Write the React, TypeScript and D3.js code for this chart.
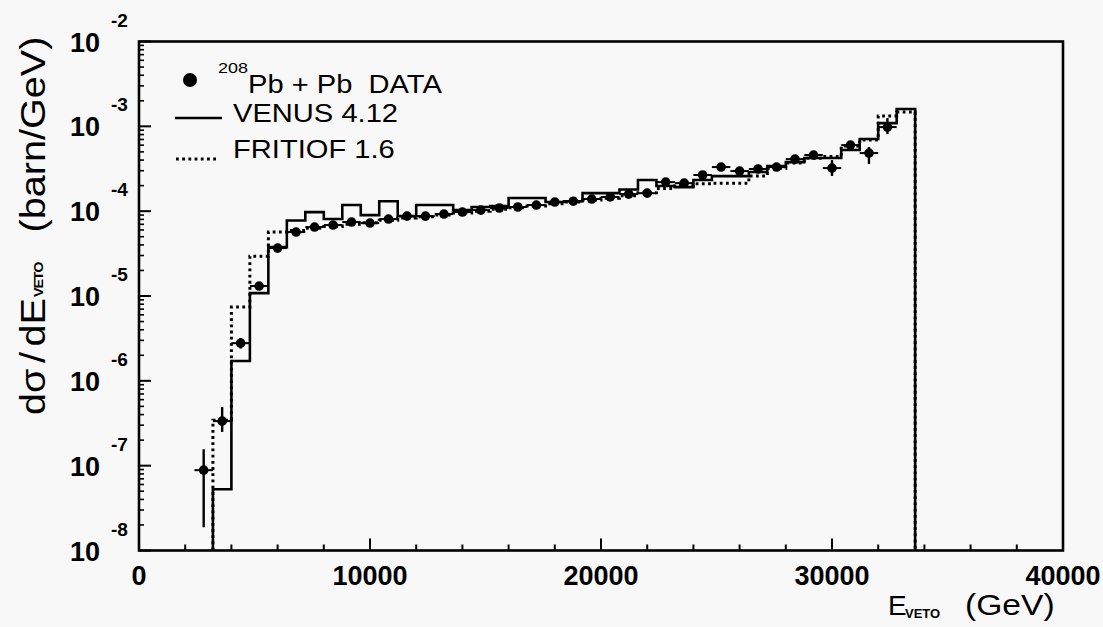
import React from 'react';
import * as d3 from 'd3';

// ---- data ----
const FIRST_EDGE = 3200; // GeV, low edge of first histogram bin
const BIN_WIDTH = 800; // GeV

const venus = [
  5.28e-8, 1.71e-6, 1.08e-5, 3.77e-5, 7.75e-5, 9.75e-5, 8.07e-5, 1.18e-4, 8.99e-5, 1.31e-4,
  8.75e-5, 1.18e-4, 1.18e-4, 1.03e-4, 1.12e-4, 1.15e-4, 1.43e-4, 1.43e-4, 1.28e-4, 1.31e-4,
  1.63e-4, 1.63e-4, 1.8e-4, 2.33e-4, 1.98e-4, 1.92e-4, 2.33e-4, 2.59e-4, 2.59e-4, 2.89e-4,
  3.4e-4, 3.79e-4, 4.23e-4, 4.23e-4, 5.25e-4, 7.08e-4, 1.09e-3, 1.6e-3,
];

const fritiof = [
  3.44e-7, 7.4e-6, 2.95e-5, 5.67e-5, 5.9e-5, 6.3e-5, 6.6e-5, 7.0e-5, 7.3e-5, 7.8e-5,
  8.3e-5, 8.6e-5, 9.0e-5, 9.5e-5, 1.0e-4, 1.05e-4, 1.1e-4, 1.15e-4, 1.22e-4, 1.28e-4,
  1.35e-4, 1.42e-4, 1.52e-4, 1.65e-4, 1.85e-4, 2.0e-4, 2.1e-4, 2.14e-4, 2.14e-4, 2.6e-4,
  3.2e-4, 3.7e-4, 4.2e-4, 4.4e-4, 5.86e-4, 6.89e-4, 1.32e-3, 1.48e-3,
];

const dataE = [
  2800, 3600, 4400, 5200, 6000, 6800, 7600, 8400, 9200, 10000,
  10800, 11600, 12400, 13200, 14000, 14800, 15600, 16400, 17200, 18000,
  18800, 19600, 20400, 21200, 22000, 22800, 23600, 24400, 25200, 26000,
  26800, 27600, 28400, 29200, 30000, 30800, 31600, 32400,
];
const dataY = [
  8.85e-8, 3.35e-7, 2.78e-6, 1.31e-5, 3.67e-5, 5.67e-5, 6.5e-5, 6.86e-5, 7.44e-5, 7.24e-5,
  8.07e-5, 8.75e-5, 8.75e-5, 9.25e-5, 9.76e-5, 1.03e-4, 1.09e-4, 1.12e-4, 1.18e-4, 1.28e-4,
  1.31e-4, 1.39e-4, 1.47e-4, 1.59e-4, 1.63e-4, 2.2e-4, 2.14e-4, 2.67e-4, 3.31e-4, 2.97e-4,
  3.14e-4, 3.31e-4, 4.11e-4, 4.59e-4, 3.22e-4, 6.01e-4, 4.84e-4, 9.8e-4,
];
const dataLo = [
  1.88e-8, 2.5e-7, 2.4e-6, 1.2e-5, 3.45e-5, 5.4e-5, 6.2e-5, 6.55e-5, 7.1e-5, 6.9e-5,
  7.7e-5, 8.35e-5, 8.35e-5, 8.85e-5, 9.3e-5, 9.85e-5, 1.04e-4, 1.07e-4, 1.12e-4, 1.22e-4,
  1.25e-4, 1.32e-4, 1.4e-4, 1.51e-4, 1.55e-4, 2.0e-4, 2.0e-4, 2.5e-4, 3.0e-4, 2.75e-4,
  2.9e-4, 3.05e-4, 3.8e-4, 4.25e-4, 2.6e-4, 5.5e-4, 3.6e-4, 8.1e-4,
];
const dataHi = [
  1.56e-7, 4.9e-7, 3.2e-6, 1.42e-5, 3.9e-5, 5.95e-5, 6.8e-5, 7.2e-5, 7.8e-5, 7.6e-5,
  8.45e-5, 9.15e-5, 9.15e-5, 9.7e-5, 1.02e-4, 1.08e-4, 1.14e-4, 1.17e-4, 1.24e-4, 1.34e-4,
  1.37e-4, 1.46e-4, 1.54e-4, 1.67e-4, 1.71e-4, 2.4e-4, 2.3e-4, 2.85e-4, 3.65e-4, 3.2e-4,
  3.4e-4, 3.6e-4, 4.45e-4, 4.95e-4, 4.0e-4, 6.5e-4, 5.7e-4, 1.25e-3,
];

const xTickLabels = [0, 10000, 20000, 30000, 40000];
const yExponents = [-2, -3, -4, -5, -6, -7, -8];

// ---- layout ----
const W = 1103;
const H = 627;
const LEFT = 139;
const RIGHT = 1063;
const TOP = 41.5;
const BOTTOM = 550.5;

const font = 'Liberation Sans, Arial, Helvetica, sans-serif';

export default function App() {
  const x = d3.scaleLinear().domain([0, 40000]).range([LEFT, RIGHT]);
  const y = d3.scaleLog().domain([1e-8, 1e-2]).range([BOTTOM, TOP]);

  const histPath = (vals: number[]) => {
    const pts: [number, number][] = [[FIRST_EDGE, 1e-8]];
    vals.forEach((v, i) => {
      const lo = FIRST_EDGE + i * BIN_WIDTH;
      pts.push([lo, v]);
      pts.push([lo + BIN_WIDTH, v]);
    });
    pts.push([FIRST_EDGE + vals.length * BIN_WIDTH, 1e-8]);
    return d3
      .line<[number, number]>()
      .x((d) => x(d[0]))
      .y((d) => y(d[1]))(pts) as string;
  };

  const xMinor = d3.range(0, 40001, 2000).filter((v) => v % 10000 !== 0);
  const yMinor: number[] = [];
  for (let e = -8; e < -2; e++) {
    for (let k = 2; k <= 9; k++) yMinor.push(k * Math.pow(10, e));
  }

  const dash = '2.8 3.4';

  return (
    <svg
      width={W}
      height={H}
      style={{ position: 'absolute', left: 0, top: 0, display: 'block', background: '#f8f8f8' }}
      fontFamily={font}
    >
      <rect x={0} y={0} width={W} height={H} fill="#f8f8f8" />
      <defs>
        <clipPath id="plotclip">
          <rect x={LEFT} y={TOP} width={RIGHT - LEFT} height={BOTTOM - TOP} />
        </clipPath>
      </defs>

      {/* histograms */}
      <g clipPath="url(#plotclip)" fill="none">
        <path d={histPath(fritiof)} stroke="#000" strokeWidth={3} strokeDasharray={dash} />
        <path d={histPath(venus)} stroke="#000" strokeWidth={2.6} />
      </g>

      {/* data points */}
      <g>
        {dataE.map((e, i) => (
          <g key={i}>
            <line x1={x(e)} x2={x(e)} y1={y(dataLo[i])} y2={y(dataHi[i])} stroke="#000" strokeWidth={2.4} />
            <line
              x1={x(e - BIN_WIDTH / 2)}
              x2={x(e + BIN_WIDTH / 2)}
              y1={y(dataY[i])}
              y2={y(dataY[i])}
              stroke="#000"
              strokeWidth={2}
            />
            <circle cx={x(e)} cy={y(dataY[i])} r={4.8} fill="#000" />
          </g>
        ))}
      </g>

      {/* frame */}
      <rect x={LEFT} y={TOP} width={RIGHT - LEFT} height={BOTTOM - TOP} fill="none" stroke="#000" strokeWidth={2.6} />

      {/* x ticks */}
      {xTickLabels.map((v) => (
        <g key={'xt' + v}>
          <line x1={x(v)} x2={x(v)} y1={BOTTOM} y2={BOTTOM - 12} stroke="#000" strokeWidth={2} />
          <text x={x(v)} y={585} textAnchor="middle" fontSize={27} fontWeight="bold">
            {v}
          </text>
        </g>
      ))}
      {xMinor.map((v) => (
        <line key={'xm' + v} x1={x(v)} x2={x(v)} y1={BOTTOM} y2={BOTTOM - 6} stroke="#000" strokeWidth={2} />
      ))}

      {/* y ticks */}
      {yExponents.map((e) => {
        const yy = y(Math.pow(10, e));
        return (
          <g key={'yt' + e}>
            <line x1={LEFT} x2={LEFT + 12} y1={yy} y2={yy} stroke="#000" strokeWidth={2} />
            <text x={100} y={yy + 10} textAnchor="end" fontSize={27} fontWeight="bold">
              10
            </text>
            <text x={111} y={yy - 15} fontSize={19} fontWeight="bold">
              {'-' + Math.abs(e)}
            </text>
          </g>
        );
      })}
      {yMinor.map((v, i) => (
        <line key={'ym' + i} x1={LEFT} x2={LEFT + 5} y1={y(v)} y2={y(v)} stroke="#000" strokeWidth={1.6} />
      ))}

      {/* legend */}
      <g>
        <circle cx={190} cy={80} r={7} fill="#000" />
        <text transform="translate(218,73) scale(1.2,1)" fontSize={15}>
          208
        </text>
        <text transform="translate(248,93) scale(1.12,1)" fontSize={26}>
          {'Pb + Pb\u00a0\u00a0DATA'}
        </text>
        <line x1={175} x2={222} y1={118} y2={118} stroke="#000" strokeWidth={2.6} />
        <text transform="translate(233,122) scale(1.12,1)" fontSize={26}>
          VENUS 4.12
        </text>
        <line x1={176} x2={219} y1={159} y2={159} stroke="#000" strokeWidth={3} strokeDasharray={dash} />
        <text transform="translate(233,158) scale(1.12,1)" fontSize={26}>
          FRITIOF 1.6
        </text>
      </g>

      {/* y title */}
      <g transform="translate(45,415) rotate(-90) scale(1.1,1)">
        <text x={0} y={0} fontSize={36}>
          <tspan>dσ</tspan>
          <tspan dx={5}>/</tspan>
          <tspan dx={5}>dE</tspan>
          <tspan dx={1} dy={-2} fontSize={13} fontWeight="bold" letterSpacing={-1}>
            VETO
          </tspan>
        </text>
        <text x={166} y={0} fontSize={36}>
          (barn/GeV)
        </text>
      </g>

      {/* x title */}
      <text x={888} y={615} fontSize={28}>
        E
      </text>
      <text x={905} y={618} fontSize={13} fontWeight="bold">
        VETO
      </text>
      <text transform="translate(965,615) scale(1.12,1)" fontSize={30}>
        (GeV)
      </text>
    </svg>
  );
}
